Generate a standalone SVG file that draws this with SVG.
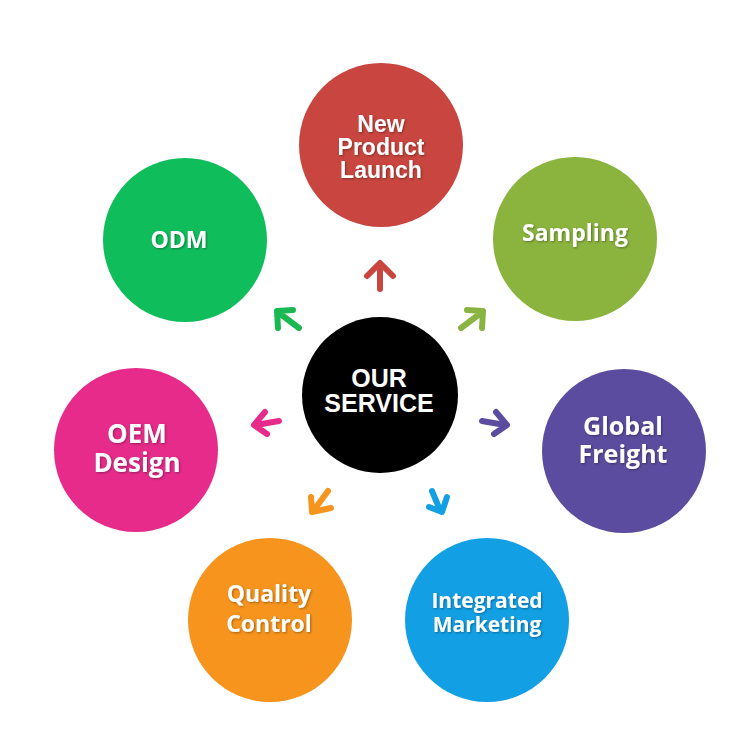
<svg xmlns="http://www.w3.org/2000/svg" width="750" height="750" viewBox="0 0 750 750">
<defs>
<filter id="sh" x="-20%" y="-20%" width="140%" height="140%">
<feDropShadow dx="1" dy="1" stdDeviation="1" flood-color="#000" flood-opacity="0.35"/>
</filter>
</defs>
<style>
.lbl{fill:#fff;font-family:"Open Sans","DejaVu Sans",sans-serif;font-weight:700;text-anchor:middle;filter:url(#sh)}
.ar{font-family:"Liberation Sans",Arial,sans-serif}
.arr{fill:none;stroke-width:6;stroke-linecap:round;stroke-linejoin:round}
</style>
<rect width="750" height="750" fill="#fff"/>
<g id="new-product-launch">
<circle cx="381" cy="145" r="82" fill="#c8463f"/>
<text class="lbl ar" font-size="23" x="381"><tspan x="381" y="132">New</tspan><tspan x="381" y="155">Product</tspan><tspan x="381" y="178">Launch</tspan></text>
</g>
<g id="sampling">
<circle cx="575" cy="239" r="82" fill="#8bb43f"/>
<text class="lbl" font-size="23" x="575" y="241">Sampling</text>
</g>
<g id="global-freight">
<circle cx="624" cy="451" r="82" fill="#5c4c9f"/>
<text class="lbl" font-size="25"><tspan x="623" y="435">Global</tspan><tspan x="623" y="463">Freight</tspan></text>
</g>
<g id="integrated-marketing">
<circle cx="487" cy="620" r="82" fill="#129fe3"/>
<text class="lbl" font-size="21"><tspan x="487" y="608">Integrated</tspan><tspan x="487" y="632">Marketing</tspan></text>
</g>
<g id="quality-control">
<circle cx="270" cy="620" r="82" fill="#f7941d"/>
<text class="lbl" font-size="23"><tspan x="269" y="602">Quality</tspan><tspan x="269" y="632">Control</tspan></text>
</g>
<g id="oem-design">
<circle cx="136" cy="450" r="82" fill="#e62b8a"/>
<text class="lbl" font-size="26"><tspan x="137" y="443">OEM</tspan><tspan x="137" y="472">Design</tspan></text>
</g>
<g id="odm">
<circle cx="185" cy="240" r="82" fill="#10bd5b"/>
<text class="lbl" font-size="23" x="179" y="248">ODM</text>
</g>
<g id="our-service">
<circle cx="380" cy="395" r="78" fill="#000"/>
<text class="ar" font-size="25" font-weight="700" fill="#fff" text-anchor="middle"><tspan x="379" y="387">OUR</tspan><tspan x="379" y="412">SERVICE</tspan></text>
</g>
<g id="connectors">
<path class="arr" stroke="#c8463f" d="M380,289 L380,264 M367,276 L380,263 L393,276"/>
<path class="arr" stroke="#1ab852" d="M293,310 L277,311 L278,328 M299,328 L279,313"/>
<path class="arr" stroke="#8ab442" d="M467,310 L483,311 L482,328 M461,328 L481,313"/>
<path class="arr" stroke="#e62b8a" d="M265,412 L254,425 L267,434 M279,421 L256,425"/>
<path class="arr" stroke="#5c4c9f" d="M496,412 L507,425 L494,434 M482,421 L505,425"/>
<path class="arr" stroke="#f7941d" d="M311,497 L312,512 L331,508 M328,491 L314,510"/>
<path class="arr" stroke="#129fe3" d="M429,507 L442,512 L447,497 M432,491 L440,510"/>
</g>
</svg>
